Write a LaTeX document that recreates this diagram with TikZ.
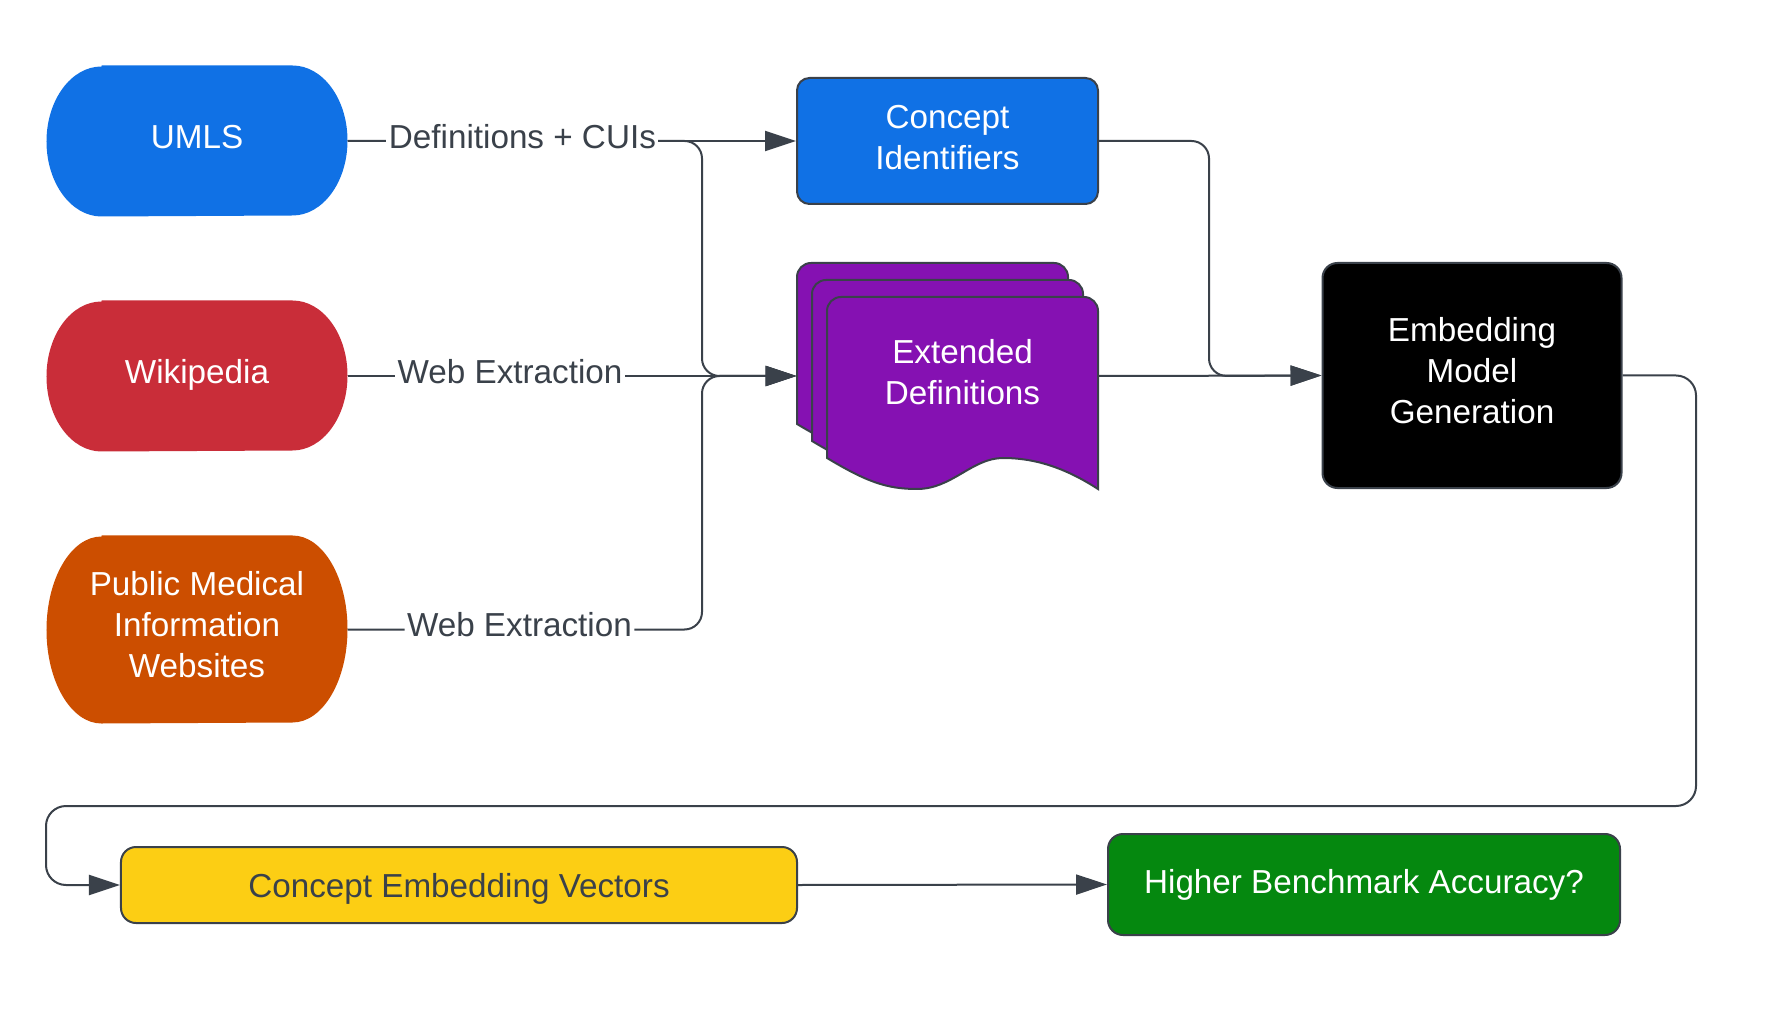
\documentclass[tikz,border=0pt]{standalone}
\usepackage{fontspec}
\setmainfont{Liberation Sans}
\usepackage{xcolor}
\usepackage{tikz}
\usetikzlibrary{arrows.meta,backgrounds}

\definecolor{umlsblue}{HTML}{1071E5}
\definecolor{wikired}{HTML}{C92D39}
\definecolor{pubrust}{HTML}{CC4E00}
\definecolor{defpurple}{HTML}{8511B2}
\definecolor{vecyellow}{HTML}{FCCE14}
\definecolor{accgreen}{HTML}{05880F}
\definecolor{wire}{HTML}{3A414A}

\begin{document}
\begin{tikzpicture}[x=0.4pt,y=-0.4pt,
        font=\fontsize{13.3}{16.4}\selectfont,
        >={Triangle[length=12.4pt,width=8pt]},
        link/.style={draw=wire,line width=0.8pt},
        oneline/.style={text height=9.6pt,text depth=3.7pt},
        twoline/.style={text height=22.7pt,text depth=0pt},
        threeline/.style={text height=38.7pt,text depth=0pt},
        lbl/.style={oneline,fill=white,text=wire,inner xsep=1pt,inner ysep=2pt},
        src/.style={minimum width=120pt,text=white,align=center,inner sep=0pt},
        box/.style={draw=wire,line width=0.8pt,rounded corners=6pt,align=center,inner sep=0pt}]
    \useasboundingbox (0,0) rectangle (1783,1024);

    \foreach \dx/\dy in {797/263,812/280,827/297}
        \filldraw[fill=defpurple,draw=wire,line width=0.8pt,shift={(\dx,\dy)}]
            (0,161) [rounded corners=5.6pt] -- (0,0) -- (271,0) [sharp corners] -- (271,192)
            .. controls (240,172) and (210,161) .. (176,161)
            .. controls (145,161) and (125,192) .. (90,192)
            .. controls (60,192) and (40,185) .. (0,161) -- cycle;

    \node[src,oneline,minimum height=60pt] (umls) at (197,141) {UMLS};
    \node[src,oneline,minimum height=60pt] (wiki) at (197,376) {Wikipedia};
    \node[src,threeline,minimum height=74.8pt] (pub) at (197,629.5) {Public Medical\\Information\\Websites};
    \begin{scope}[on background layer]
        \foreach \n/\c/\r in {umls/umlsblue/30pt,wiki/wikired/30pt,pub/pubrust/37.4pt}
            \fill[\c] ([xshift=22pt]\n.north west) -- ([xshift=-22pt]\n.north east)
                arc[start angle=90,end angle=-90,x radius=22pt,y radius=\r]
                -- ([xshift=22pt]\n.south west)
                arc[start angle=270,end angle=90,x radius=22pt,y radius=\r] -- cycle;
    \end{scope}

    \node[box,twoline,fill=umlsblue,text=white,rounded corners=5pt,minimum width=120.4pt,minimum height=50.4pt] (ci) at (947.5,141) {Concept\\Identifiers};
    \node[minimum width=120.4pt,minimum height=90.4pt,inner sep=0pt] (ed) at (947.5,376) {};
    \node[text=white,align=center] (edtext) at (962.5,372) {Extended\\Definitions};
    \node[box,threeline,fill=black,text=white,minimum width=119.6pt,minimum height=90pt] (emb) at (1472,375.5) {Embedding\\Model\\Generation};
    \node[box,fill=vecyellow,text=wire,text height=10pt,text depth=0pt,minimum width=270.4pt,minimum height=30.4pt] (cev) at (459,885) {Concept Embedding Vectors};
    \node[box,fill=accgreen,text=white,minimum width=204.8pt,minimum height=40.4pt] (hba) at (1364,884.5) {Higher Benchmark Accuracy?};

    \coordinate (mergeL) at (702,376);
    \coordinate (mergeR) at (1209,376);
    \coordinate (loopR) at (1696,806);
    \coordinate (loopL) at (46,806);

    \draw[link,->,rounded corners=7pt] (umls.east) -| (mergeL) -- (ed.west);
    \draw[link,->,rounded corners=7pt] (pub.east) -- node[lbl,pos=0.485] (pubweb) {Web Extraction} (pub.east -| mergeL) -- (mergeL) -- (ed.west);
    \draw[link,->] (umls.east) -- node[lbl,pos=0.39] (umlsdef) {Definitions + CUIs} (ci.west);
    \draw[link,->] (wiki.east) -- node[lbl,pos=0.362] (wikiweb) {Web Extraction} (ed.west);
    \draw[link,->,rounded corners=7pt] (ci.east) -| (mergeR) -- (emb.west);
    \draw[link,->] (ed.east) -- (emb.west);
    \draw[link,->,rounded corners=8pt] (emb.east) -| (loopR) -- (loopL) |- (cev.west);
    \draw[link,->] (cev.east) -- (hba.west);
\end{tikzpicture}
\end{document}
